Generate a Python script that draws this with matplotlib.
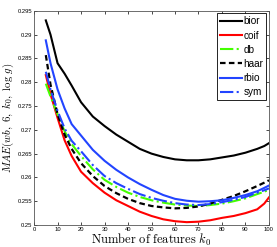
import numpy as np
import matplotlib
matplotlib.use("Agg")
import matplotlib.pyplot as plt

plt.rcParams['mathtext.fontset'] = 'cm'
plt.rcParams['font.family'] = ['Liberation Sans', 'DejaVu Sans']

# number of features k0
k0 = [5, 7, 10, 13, 16, 20, 25, 30, 35, 40, 45, 50, 55, 60, 65, 70, 75, 80, 85, 90, 95, 98, 100]

bior = [0.2930, 0.2900, 0.2840, 0.2818, 0.2793, 0.2758, 0.2728, 0.2708, 0.2690, 0.2675, 0.2660, 0.2650,
        0.2643, 0.2638, 0.2636, 0.2636, 0.2638, 0.2642, 0.2646, 0.2652, 0.2660, 0.2666, 0.2672]
coif = [0.2815, 0.2775, 0.2725, 0.2678, 0.2645, 0.2612, 0.2588, 0.2568, 0.2552, 0.2540, 0.2528, 0.2519,
        0.2512, 0.2508, 0.2506, 0.2507, 0.2510, 0.2515, 0.2519, 0.2525, 0.2533, 0.2545, 0.2558]
db = [0.2797, 0.2770, 0.2733, 0.2697, 0.2670, 0.2645, 0.2617, 0.2595, 0.2580, 0.2568, 0.2559, 0.2552,
      0.2547, 0.2543, 0.2541, 0.2540, 0.2542, 0.2545, 0.2550, 0.2556, 0.2565, 0.2570, 0.2574]
haar = [0.2857, 0.2795, 0.2733, 0.2690, 0.2660, 0.2630, 0.2603, 0.2582, 0.2567, 0.2555, 0.2546, 0.2540,
        0.2537, 0.2535, 0.2536, 0.2539, 0.2545, 0.2553, 0.2561, 0.2571, 0.2582, 0.2589, 0.2594]
rbio = [0.2888, 0.2840, 0.2785, 0.2745, 0.2712, 0.2688, 0.2658, 0.2635, 0.2616, 0.2600, 0.2586, 0.2574,
        0.2563, 0.2555, 0.2551, 0.2549, 0.2550, 0.2552, 0.2557, 0.2563, 0.2571, 0.2578, 0.2583]
sym = [0.2822, 0.2785, 0.2740, 0.2703, 0.2677, 0.2655, 0.2626, 0.2603, 0.2588, 0.2576, 0.2565, 0.2557,
       0.2551, 0.2546, 0.2543, 0.2542, 0.2544, 0.2548, 0.2553, 0.2559, 0.2568, 0.2573, 0.2577]

fig = plt.figure(figsize=(2.77, 2.47), dpi=100)
ax = fig.add_axes([0.123, 0.089, 0.848, 0.867])

ax.plot(k0, bior, color='black', lw=1.5, label='bior')
ax.plot(k0, coif, color='#ff0000', lw=1.5, label='coif')
ax.plot(k0, db, color='#44ff00', lw=1.5, ls='-.', label='db')
ax.plot(k0, haar, color='black', lw=1.6, ls=(0, (2.5, 1.5)), label='haar')
ax.plot(k0, rbio, color='#2244ff', lw=1.5, label='rbio')
ax.plot(k0, sym, color='#2244ff', lw=1.5, ls='-.', label='sym')

ax.set_xlim(0, 100)
ax.set_ylim(0.25, 0.295)
ax.set_xticks(range(0, 101, 10))
ax.set_yticks(np.arange(0.25, 0.2951, 0.005))
ax.set_yticklabels(['0.25', '0.255', '0.26', '0.265', '0.27', '0.275', '0.28', '0.285', '0.29', '0.295'])
ax.tick_params(direction='in', top=True, right=True, labelsize=4.2, length=2.5, width=0.5, pad=1.5)
for s in ax.spines.values():
    s.set_linewidth(0.6)
    s.set_color('#555555')

ax.set_xlabel(r'$\mathrm{Number\ of\ features}\ k_0$', fontsize=9, labelpad=0)
ax.set_ylabel(r'$MAE(wb,\ 6,\ k_0,\ \log\,g)$', fontsize=7.8, labelpad=1)

leg = ax.legend(loc='upper right', fontsize=7.2, handlelength=2.2, handletextpad=0.2,
                borderpad=0.3, labelspacing=0.42, borderaxespad=0.25, fancybox=False,
                framealpha=1, edgecolor='black')
leg.get_frame().set_linewidth(0.6)

fig.savefig('out.png', dpi=100)
